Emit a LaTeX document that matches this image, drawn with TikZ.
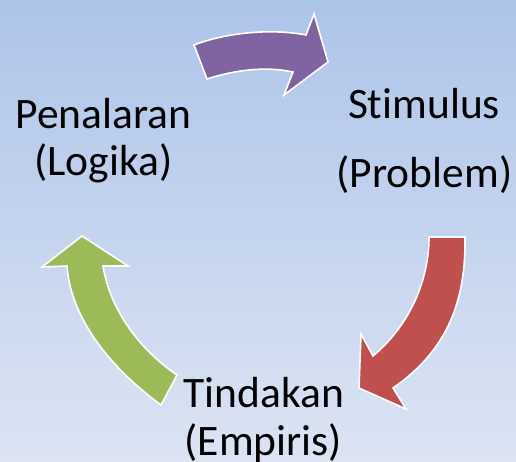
\documentclass[tikz,border=0pt]{standalone}
\usepackage{fontspec}
\setmainfont{Carlito}[Ligatures={NoCommon}]
\begin{document}
\begin{tikzpicture}[x=1pt,y=-1pt,
  lbl/.style={anchor=base,inner sep=0pt,font=\fontsize{43.5}{52}\selectfont,text=black},
  blk/.style={draw=white,line width=1.6pt,line join=miter}]
\useasboundingbox (0,0) rectangle (516,461);
\shade[top color={rgb,255:red,173;green,196;blue,233},bottom color={rgb,255:red,220;green,228;blue,243}] (0,0) rectangle (516,461);
% purple arrow
\filldraw[blk,fill={rgb,255:red,128;green,100;blue,162}]
  (194,45) .. controls (225,33) and (270,28) .. (306,35) -- (314,14) -- (328,62) -- (284,95) -- (293,72)
  .. controls (265,66) and (235,70) .. (207,79) -- cycle;
% red arrow
\filldraw[blk,fill={rgb,255:red,192;green,80;blue,77}]
  (429,237) -- (465,237) .. controls (466,300) and (448,350) .. (393,388) -- (406,409) -- (359,388) -- (361,334) -- (373,356)
  .. controls (410,325) and (429,280) .. (429,237) -- cycle;
% green arrow
\filldraw[blk,fill={rgb,255:red,155;green,187;blue,89}]
  (161,405) .. controls (100,360) and (70,310) .. (67,266) -- (42,267) -- (82,236) -- (128,266) -- (103,266)
  .. controls (110,310) and (140,350) .. (177,375) -- cycle;
\node[lbl] (pen) at (103.5,128) {Penalaran};
\node[lbl] (log) at (103.5,175) {(Logika)};
\node[lbl] (sti) at (424,118) {Stimulus};
\node[lbl] (pro) at (424.5,187) {(Problem)};
\node[lbl] (tin) at (264,407) {Tindakan};
\node[lbl] (emp) at (263.5,455) {(Empiris)};
\end{tikzpicture}
\end{document}
